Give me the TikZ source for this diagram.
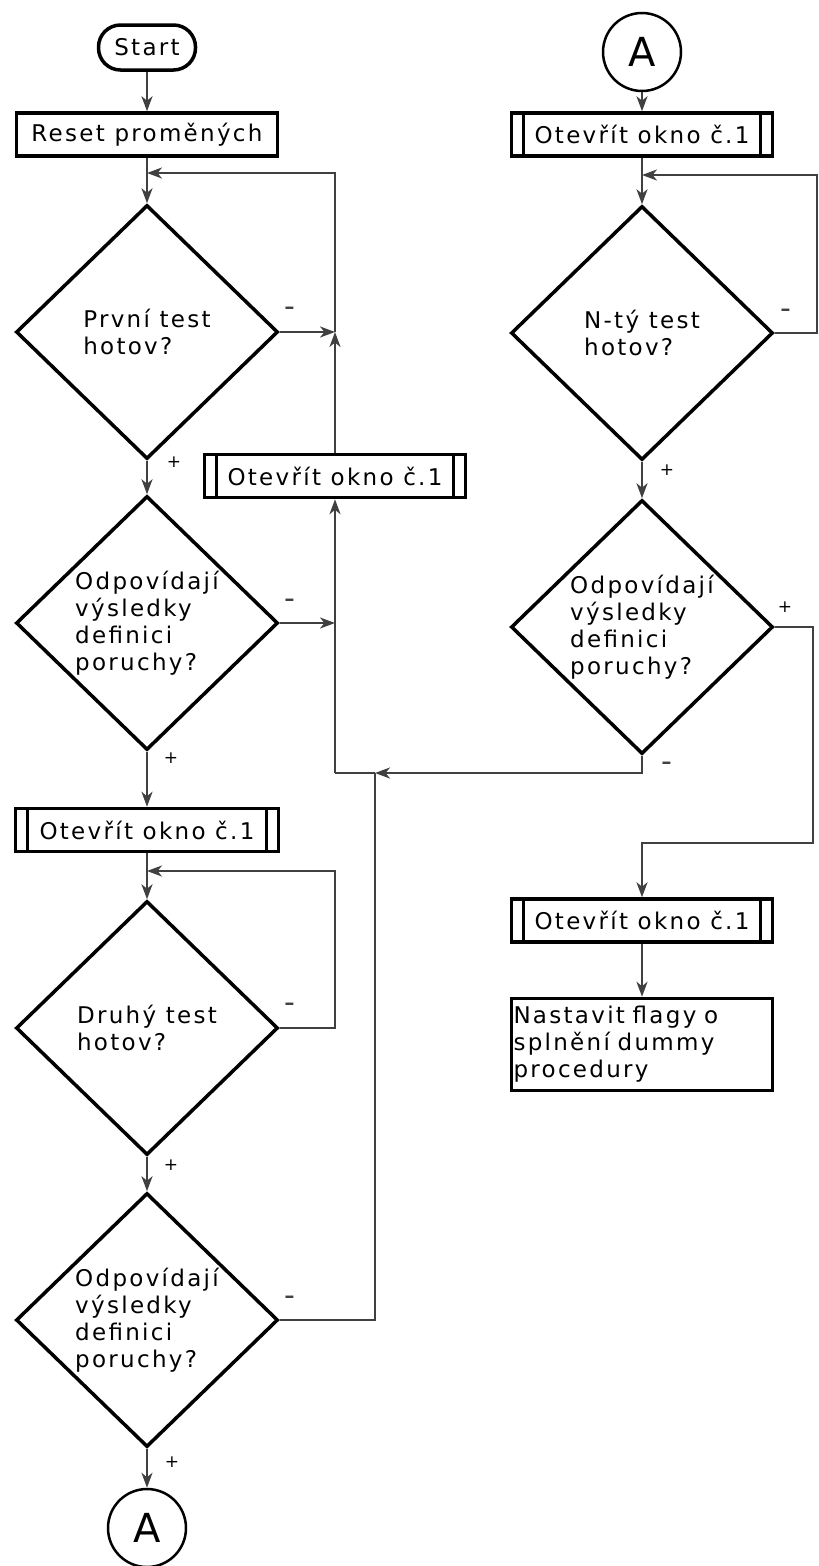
\documentclass[tikz,border=0pt]{standalone}
\usepackage{fontspec}
\setmainfont{DejaVu Sans}
\newfontfamily\flowfont{DejaVu Sans}[LetterSpace=10]
\usetikzlibrary{shapes.geometric,arrows.meta}
\tikzset{
  txt/.style={font=\flowfont\fontsize{23}{27}\selectfont},
  terminal/.style={draw,txt,line width=3.5pt,rectangle,rounded corners=22pt,minimum width=97pt,minimum height=45pt,inner sep=0pt},
  block/.style={draw,txt,line width=3.5pt,rectangle,minimum width=261pt,minimum height=43pt,inner sep=0pt},
  subproc/.style={block,path picture={
      \draw[line width=3.5pt] ([xshift=12pt]path picture bounding box.north west) -- ([xshift=12pt]path picture bounding box.south west)
        ([xshift=-12pt]path picture bounding box.north east) -- ([xshift=-12pt]path picture bounding box.south east);}},
  decision/.style={draw,txt,diamond,line width=3.5pt,minimum width=262pt,minimum height=254pt,inner sep=0pt,align=left},
  joint/.style={draw,circle,line width=2.5pt,minimum size=78pt,inner sep=0pt,font=\fontsize{40}{40}\selectfont},
  line/.style={line width=2.2pt,draw=black!75},
  flow/.style={line,->},
  pluslbl/.style={font=\fontsize{17}{17}\selectfont,inner sep=0pt},
  minuslbl/.style={font=\fontsize{30}{30}\selectfont,inner sep=0pt,text=black!75}
}
\begin{document}
\begin{tikzpicture}[x=1pt,y=-1pt,>={Stealth[length=15pt,width=11pt,inset=4.5pt]}]
  \fill[white] (0,0) rectangle (819,1566);
  \useasboundingbox (0,0) rectangle (819,1566);

  \node[terminal] (start) at (147,47.5) {Start};
  \node[block] (reset) at (147,134.5) {Reset proměných};
  \node[decision] (d1) at (147,332) {První test\\hotov?};
  \node[decision] (d2) at (147,623) {Odpovídají\\výsledky\\definici\\poruchy?};
  \node[subproc] (ob1) at (335,476) {Otevřít okno č.1};
  \node[subproc,minimum width=263pt] (ob2) at (147,830) {Otevřít okno č.1};
  \node[decision] (d3) at (147,1028) {Druhý test\\hotov?};
  \node[decision] (d4) at (147,1320) {Odpovídají\\výsledky\\definici\\poruchy?};
  \node[joint] (a1) at (147,1528) {A};

  \node[joint] (a2) at (642,52) {A};
  \node[subproc] (ob3) at (642,134.5) {Otevřít okno č.1};
  \node[decision] (rd1) at (642,333) {N-tý test\\hotov?};
  \node[decision] (rd2) at (642,627) {Odpovídají\\výsledky\\definici\\poruchy?};
  \node[subproc] (ob4) at (642,920.5) {Otevřít okno č.1};
  \node[block,minimum height=92pt,text width=257pt,align=left] (nast) at (642,1044.5) {Nastavit flagy o\\splnění dummy\\procedury};

  \coordinate (j1) at (147,173);
  \coordinate (k1) at (335,173);
  \coordinate (c1) at (335,332);
  \coordinate (c2) at (335,623);
  \coordinate (c3) at (335,773);
  \coordinate (c4) at (375,773);
  \coordinate (c5) at (375,1320);
  \coordinate (j3) at (147,871);
  \coordinate (k3) at (335,871);
  \coordinate (c6) at (335,1028);
  \coordinate (j5) at (642,175);
  \coordinate (k5) at (817,175);
  \coordinate (c7) at (817,333);
  \coordinate (c8) at (813,627);
  \coordinate (c9) at (813,843);
  \coordinate (j9) at (642,843);
  \coordinate (c10) at (642,773);

  \draw[flow] (start) -- (reset);
  \draw[flow] (reset) -- (d1);
  \draw[flow] (d1.east) -- (c1);
  \draw[flow] (ob1) -- (c1);
  \draw[flow] (c1) -- (k1) -- (j1);
  \draw[flow] (d1) -- (d2);
  \draw[flow] (d2.east) -- (c2);
  \draw[flow] (c3) -- (ob1);
  \draw[flow] (rd2.south) -- (c10) -- (c4);
  \draw[line] (c4) -- (c3);
  \draw[line] (d4.east) -- (c5) -- (c4);
  \draw[flow] (d2) -- (ob2);
  \draw[flow] (ob2) -- (d3);
  \draw[flow] (d3.east) -- (c6) -- (k3) -- (j3);
  \draw[flow] (d3) -- (d4);
  \draw[flow] (d4) -- (a1);

  \draw[flow] (a2) -- (ob3);
  \draw[flow] (ob3) -- (rd1);
  \draw[flow] (rd1.east) -- (c7) -- (k5) -- (j5);
  \draw[flow] (rd1) -- (rd2);
  \draw[flow] (rd2.east) -- (c8) -- (c9) -- (j9) -- (ob4);
  \draw[flow] (ob4) -- (nast);

  \node[minuslbl] (m1) at (290,311.5) {-};
  \node[minuslbl] (m2) at (290,603.5) {-};
  \node[minuslbl] (m3) at (290,1007.5) {-};
  \node[minuslbl] (m4) at (290,1300.5) {-};
  \node[minuslbl] (m5) at (786,313.5) {-};
  \node[minuslbl] (m6) at (667,766.5) {-};
  \node[pluslbl] (p1) at (174,462) {+};
  \node[pluslbl] (p2) at (171,758) {+};
  \node[pluslbl] (p3) at (171,1165) {+};
  \node[pluslbl] (p4) at (172,1462) {+};
  \node[pluslbl] (p5) at (667,470) {+};
  \node[pluslbl] (p6) at (785,607) {+};
\end{tikzpicture}
\end{document}
